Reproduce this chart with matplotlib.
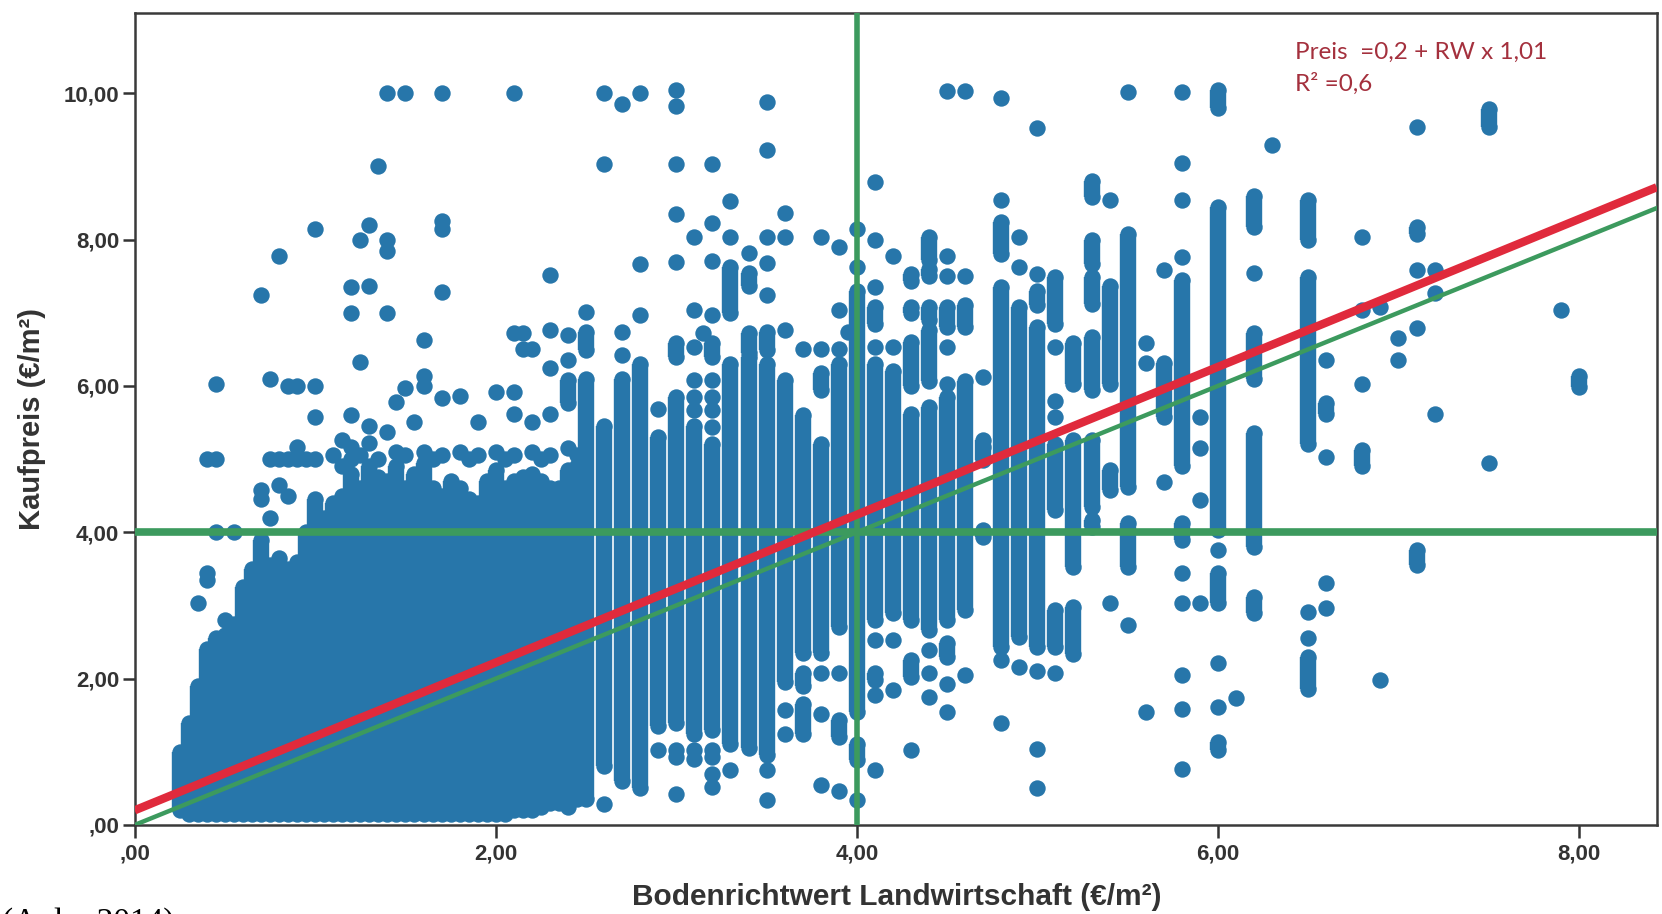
import numpy as np
import matplotlib.pyplot as plt

plt.rcParams['font.family'] = ['Liberation Sans', 'DejaVu Sans']

BLUE = '#2776aa'
GREEN = '#3c9a5e'
RED = '#e02a3c'

# Regressionsgerade laut Grafik
intercept = 0.2
slope = 1.01

# dichter Kern: gestapelte Punkte je Bodenrichtwert (x, unterster, oberster Punkt)
core_x = [0.25, 0.30, 0.35, 0.40, 0.45, 0.50, 0.55, 0.60, 0.65, 0.70, 0.75, 0.80, 0.85, 0.90, 0.95,
          1.00, 1.05, 1.10, 1.15, 1.20, 1.25, 1.30, 1.35, 1.40, 1.45, 1.50, 1.55, 1.60, 1.65, 1.70,
          1.75, 1.80, 1.85, 1.90, 1.95, 2.00, 2.05, 2.10, 2.15, 2.20, 2.25, 2.30, 2.35, 2.40, 2.45,
          2.50, 2.60, 2.70, 2.80, 2.90, 3.00, 3.10, 3.20, 3.30, 3.40, 3.50, 3.60, 3.70, 3.80, 3.90, 4.00]
core_lo = [0.20, 0.15, 0.15, 0.15, 0.15, 0.15, 0.15, 0.15, 0.15, 0.15, 0.15, 0.15, 0.15, 0.15, 0.15,
           0.15, 0.15, 0.15, 0.15, 0.15, 0.15, 0.15, 0.15, 0.15, 0.15, 0.15, 0.15, 0.15, 0.15, 0.15,
           0.15, 0.15, 0.15, 0.15, 0.15, 0.15, 0.15, 0.20, 0.20, 0.20, 0.25, 0.30, 0.30, 0.25, 0.35,
           0.35, 0.80, 0.60, 0.50, 1.35, 1.40, 1.25, 1.30, 1.10, 1.05, 0.95, 1.95, 2.35, 2.35, 2.70, 1.55]
core_hi = [1.00, 1.40, 1.90, 2.40, 2.55, 2.60, 2.75, 3.25, 3.50, 3.90, 3.55, 3.65, 3.50, 3.60, 4.00,
           4.45, 4.20, 4.40, 4.50, 4.80, 4.60, 4.90, 4.75, 4.70, 4.90, 4.60, 4.80, 4.95, 4.60, 4.50,
           4.70, 4.60, 4.45, 4.40, 4.70, 4.85, 4.60, 4.70, 4.75, 4.80, 4.70, 4.60, 4.60, 4.85, 4.90,
           6.10, 5.45, 6.10, 6.30, 5.30, 5.85, 5.45, 5.20, 6.30, 6.40, 6.30, 6.08, 5.60, 5.20, 6.30, 7.30]

# lockere Stapel (x, von, bis)
stacks = [
    (2.40, 5.76, 6.08), (2.50, 6.49, 6.74), (3.00, 6.40, 6.58), (3.20, 6.40, 6.58),
    (3.30, 7.00, 7.63), (3.40, 7.36, 7.54), (3.40, 6.45, 6.72), (3.50, 6.49, 6.74),
    (3.80, 5.94, 6.17), (3.70, 1.25, 1.66), (3.70, 1.90, 2.07), (3.90, 1.20, 1.43),
    (4.00, 0.89, 1.11),
    (4.10, 2.80, 6.30), (4.10, 6.85, 7.08), (4.10, 1.98, 2.07),
    (4.20, 2.90, 6.20),
    (4.30, 2.80, 5.62), (4.30, 6.00, 6.60), (4.30, 7.00, 7.08), (4.30, 7.44, 7.53), (4.30, 2.02, 2.25),
    (4.40, 2.66, 5.71), (4.40, 6.07, 6.76), (4.40, 6.90, 7.08), (4.40, 7.50, 7.60), (4.40, 7.72, 8.04),
    (4.50, 2.80, 5.85), (4.50, 6.80, 7.08), (4.50, 2.30, 2.48),
    (4.60, 2.94, 6.07), (4.60, 6.80, 7.10),
    (4.70, 4.99, 5.26), (4.70, 3.94, 4.03),
    (4.80, 2.43, 7.35), (4.80, 7.80, 8.24),
    (4.90, 2.57, 7.08),
    (5.00, 2.43, 6.80), (5.00, 7.10, 7.30),
    (5.10, 6.85, 7.49), (5.10, 4.30, 5.20), (5.10, 2.43, 2.94),
    (5.20, 6.03, 6.58), (5.20, 3.53, 5.26), (5.20, 2.34, 2.98),
    (5.30, 8.58, 8.80), (5.30, 7.67, 8.00), (5.30, 7.12, 7.49), (5.30, 5.94, 6.67),
    (5.30, 4.35, 5.26), (5.30, 4.07, 4.17),
    (5.40, 6.03, 7.36), (5.40, 4.58, 4.85),
    (5.50, 4.62, 8.08), (5.50, 3.53, 4.12),
    (5.70, 5.58, 6.31),
    (5.80, 4.90, 7.45), (5.80, 3.89, 4.12),
    (6.00, 9.80, 10.05), (6.00, 4.03, 8.45), (6.00, 3.03, 3.44), (6.00, 1.02, 1.13),
    (6.20, 8.17, 8.60), (6.20, 6.10, 6.72), (6.20, 3.80, 5.35), (6.20, 2.89, 3.12),
    (6.50, 8.00, 8.54), (6.50, 5.21, 7.49), (6.50, 1.86, 2.30),
    (6.60, 5.62, 5.76), (6.80, 4.90, 5.12),
    (7.10, 8.08, 8.17), (7.10, 3.55, 3.76),
    (7.50, 9.54, 9.79), (8.00, 5.99, 6.13),
]

# einzelne Punkte
dots_upper_left = [
    (1.40, 10.0), (1.50, 10.0), (1.70, 10.0), (2.10, 10.0), (1.35, 9.0),
    (1.00, 8.14), (1.30, 8.20), (1.25, 8.00), (1.40, 8.00), (1.40, 7.85), (1.70, 8.25), (1.70, 8.15),
    (0.80, 7.77), (0.70, 7.24), (1.20, 7.35), (1.30, 7.36), (1.70, 7.28), (1.20, 7.00), (1.40, 7.00),
    (2.30, 7.52), (2.30, 6.77), (1.60, 6.63), (2.10, 6.72), (2.15, 6.72), (2.15, 6.50), (2.20, 6.50),
    (1.25, 6.32), (2.30, 6.24), (0.45, 6.03), (0.75, 6.10), (0.85, 6.00), (0.90, 6.00), (1.00, 6.00),
    (1.60, 6.14), (1.60, 6.00), (1.50, 5.97), (1.45, 5.78), (1.70, 5.83), (1.80, 5.86), (2.00, 5.92),
    (2.10, 5.92), (2.30, 5.62), (1.00, 5.57), (1.20, 5.60), (1.30, 5.45), (1.30, 5.22), (1.40, 5.37),
    (1.55, 5.50), (1.90, 5.50), (2.10, 5.62), (2.20, 5.50), (1.15, 5.26), (1.20, 5.17), (1.15, 4.90),
    (2.40, 6.70), (2.40, 6.35), (2.70, 6.74), (2.70, 6.42), (2.50, 7.01), (2.80, 7.67), (2.80, 6.97),
]
dots_row5 = [
    (0.40, 5.00), (0.45, 5.00), (0.75, 5.00), (0.80, 5.00), (0.85, 5.00), (0.90, 5.00), (0.95, 5.00),
    (1.00, 5.00), (0.90, 5.17), (1.10, 5.05), (1.20, 5.00), (1.25, 5.05), (1.35, 5.00), (1.45, 5.10),
    (1.50, 5.05), (1.60, 5.10), (1.65, 5.00), (1.70, 5.05), (1.80, 5.10), (1.85, 5.00), (1.90, 5.05),
    (2.00, 5.10), (2.05, 5.00), (2.10, 5.05), (2.20, 5.10), (2.25, 5.00), (2.30, 5.05), (2.40, 5.15),
    (2.45, 5.05),
]
dots_left_edge = [
    (0.70, 4.45), (0.70, 4.58), (0.80, 4.64), (0.85, 4.49), (0.55, 4.00), (0.45, 4.00), (0.75, 4.20),
    (0.35, 3.03), (0.40, 3.45), (0.40, 3.35), (0.50, 2.80),
]
dots_middle = [
    (2.60, 10.0), (2.70, 9.85), (2.80, 10.0), (3.00, 10.04), (3.00, 9.82), (3.50, 9.88), (3.50, 9.22),
    (2.60, 9.03), (3.00, 9.03), (3.20, 9.03), (3.30, 8.53), (3.00, 8.35), (3.20, 8.22), (3.60, 8.36),
    (3.10, 8.03), (3.30, 8.03), (3.50, 8.03), (3.60, 8.03), (3.80, 8.03), (3.90, 7.90), (4.00, 8.14),
    (4.00, 7.62), (3.00, 7.70), (3.20, 7.71), (3.40, 7.81), (3.50, 7.68), (3.50, 7.24), (3.10, 7.04),
    (3.20, 6.97), (3.90, 7.04), (3.15, 6.72), (3.10, 6.53), (3.60, 6.76), (3.70, 6.51), (3.80, 6.51),
    (3.90, 6.51), (3.95, 6.74), (2.90, 5.69), (3.10, 5.67), (3.10, 5.85), (3.10, 6.08), (3.20, 5.44),
    (3.20, 5.67), (3.20, 5.85), (3.20, 6.08),
]
dots_low = [
    (2.60, 0.29), (2.90, 1.02), (3.00, 1.02), (3.00, 0.93), (3.00, 0.43), (3.10, 1.02), (3.10, 0.90),
    (3.20, 1.02), (3.20, 0.93), (3.20, 0.70), (3.20, 0.52), (3.30, 0.75), (3.50, 0.75), (3.50, 0.34),
    (3.60, 1.57), (3.60, 1.25), (3.80, 2.07), (3.80, 1.52), (3.80, 0.54), (3.90, 2.07), (3.90, 0.47),
    (4.00, 0.34),
]
dots_right = [
    (4.10, 8.78), (4.10, 8.00), (4.10, 7.35), (4.10, 6.53), (4.10, 2.53), (4.10, 1.77), (4.10, 0.75),
    (4.20, 7.77), (4.20, 6.53), (4.20, 2.53), (4.20, 1.84), (4.30, 1.02), (4.40, 2.39), (4.40, 2.07),
    (4.40, 1.75), (4.50, 10.03), (4.50, 7.78), (4.50, 7.50), (4.50, 6.53), (4.50, 6.03), (4.50, 1.93),
    (4.50, 1.55), (4.60, 10.03), (4.60, 7.50), (4.60, 2.05), (4.70, 6.12), (4.70, 5.16), (4.80, 9.94),
    (4.80, 8.54), (4.80, 2.25), (4.80, 1.39), (4.90, 8.04), (4.90, 7.62), (4.90, 2.16), (5.00, 9.53),
    (5.00, 7.53), (5.00, 2.10), (5.00, 1.04), (5.00, 0.50), (5.10, 6.53), (5.10, 5.80), (5.10, 5.57),
    (5.10, 2.07), (5.40, 8.54), (5.40, 3.03), (5.50, 10.01), (5.50, 2.73), (5.60, 6.58), (5.60, 6.31),
    (5.60, 1.55), (5.70, 7.58), (5.70, 4.69), (5.80, 10.01), (5.80, 9.04), (5.80, 8.54), (5.80, 7.76),
    (5.80, 3.44), (5.80, 3.03), (5.80, 2.05), (5.80, 1.59), (5.80, 0.77), (5.90, 5.58), (5.90, 5.15),
    (5.90, 4.44), (5.90, 3.03), (6.00, 3.76), (6.00, 2.21), (6.00, 1.61), (6.10, 1.73), (6.20, 7.54),
    (6.30, 9.29), (6.50, 2.91), (6.50, 2.55), (6.60, 6.35), (6.60, 5.03), (6.60, 3.30), (6.60, 2.96),
    (6.80, 8.04), (6.80, 7.04), (6.80, 6.03), (6.90, 7.08), (6.90, 1.98), (7.00, 6.65), (7.00, 6.35),
    (7.10, 9.54), (7.10, 7.58), (7.10, 6.79), (7.20, 7.58), (7.20, 7.27), (7.20, 5.62), (7.50, 4.95),
    (7.90, 7.04),
]

ticks = [0, 2, 4, 6, 8]
ytick_vals = [0, 2, 4, 6, 8, 10]
tick_labels = [',00', '2,00', '4,00', '6,00', '8,00']
ytick_labels = [',00', '2,00', '4,00', '6,00', '8,00', '10,00']

fig = plt.figure(figsize=(16.62, 9.14), dpi=100)
ax = fig.add_axes([0.081, 0.0974, 0.9158, 0.8887])
ax.set_xlim(0, 8.43)
ax.set_ylim(0, 11.1)

dot = 11.8  # Punktdurchmesser in pt

run_x = core_x + [s[0] for s in stacks]
run_lo = core_lo + [s[1] for s in stacks]
run_hi = core_hi + [s[2] for s in stacks]
ax.vlines(run_x, run_lo, run_hi, colors=BLUE, linewidth=dot, zorder=2)
ax.scatter(run_x, run_lo, s=dot ** 2, c=BLUE, linewidths=0, zorder=2)
ax.scatter(run_x, run_hi, s=dot ** 2, c=BLUE, linewidths=0, zorder=2)

all_dots = dots_upper_left + dots_row5 + dots_left_edge + dots_middle + dots_low + dots_right
dx = [d[0] for d in all_dots]
dy = [d[1] for d in all_dots]
ax.scatter(dx, dy, s=dot ** 2, c=BLUE, linewidths=0, zorder=2, clip_on=False)

# Referenzlinien
ax.axhline(4, color=GREEN, lw=5.5, zorder=4)
ax.axvline(4, color=GREEN, lw=4, zorder=4)
xl = np.array([0, 8.43])
ax.plot(xl, xl, color=GREEN, lw=3.2, zorder=5)
ax.plot(xl, intercept + slope * xl, color=RED, lw=6, zorder=6, solid_capstyle='butt')

ax.set_xticks(ticks)
ax.set_xticklabels(tick_labels)
ax.set_yticks(ytick_vals)
ax.set_yticklabels(ytick_labels)
ax.tick_params(direction='out', length=9, width=1.8, color='#333333', labelsize=16,
               labelcolor='#333333')
ax.tick_params(axis='x', pad=4)
ax.tick_params(axis='y', pad=2)
for lbl in ax.get_xticklabels() + ax.get_yticklabels():
    lbl.set_fontweight('bold')
for sp in ax.spines.values():
    sp.set_color('#3a3a3a')
    sp.set_linewidth(1.8)

fig.text(0.5396, 0.0098, 'Bodenrichtwert Landwirtschaft (€/m²)', ha='center', va='baseline',
         fontsize=21.5, fontweight='bold', color='#333333')
fig.text(0.019, 0.5416, 'Kaufpreis (€/m²)', rotation=90, ha='center', va='center',
         fontsize=21, fontweight='bold', color='#333333')

fig.text(0.779, 0.9354, 'Preis  =0,2 + RW x 1,01', ha='left', va='baseline',
         fontsize=17.5, color='#a4303d', family=['Lato', 'DejaVu Sans'])
fig.text(0.779, 0.9008, 'R² =0,6', ha='left', va='baseline',
         fontsize=17.5, color='#a4303d', family=['Lato', 'DejaVu Sans'])

# Quellenangabe, im Original unten abgeschnitten
fig.text(0.001, -0.0185, '(Anlu, 2014)', ha='left', va='baseline', fontsize=24,
         family=['Liberation Serif', 'DejaVu Serif'], color='black')

fig.savefig('out.png', dpi=100)
